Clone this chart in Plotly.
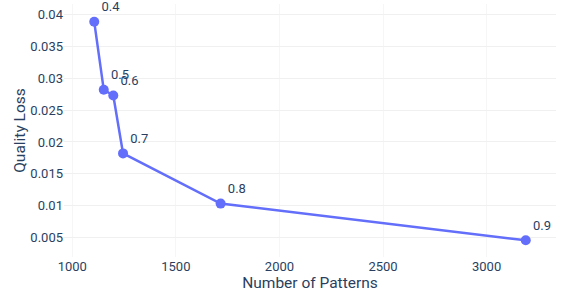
import plotly.graph_objects as go

patterns = [1106, 1152, 1198, 1245, 1716, 3189]
quality_loss = [0.0389, 0.0282, 0.0273, 0.0182, 0.0103, 0.00453]
labels = ["0.4", "0.5", "0.6", "0.7", "0.8", "0.9"]

fig = go.Figure(go.Scatter(
    x=patterns, y=quality_loss, mode="lines+markers+text",
    text=labels, textposition="top right",
    line=dict(color="#636efa", width=2.5),
    marker=dict(size=10, color="#636efa"),
    textfont=dict(size=13, color="#2a3f5f"),
    cliponaxis=False,
))
fig.update_layout(
    template="plotly_white",
    width=564, height=297,
    margin=dict(l=64, r=8, t=4, b=40),
    font=dict(family="Roboto", color="#2a3f5f", size=13),
    showlegend=False,
    xaxis=dict(title=dict(text="Number of Patterns", font=dict(size=15.5), standoff=4),
               range=[960, 3335], tickvals=[1000, 1500, 2000, 2500, 3000],
               gridcolor="#f6f6f6", zeroline=False),
    yaxis=dict(title=dict(text="Quality Loss", font=dict(size=15.5), standoff=0),
               range=[0.0019, 0.0417],
               tickvals=[0.005, 0.01, 0.015, 0.02, 0.025, 0.03, 0.035, 0.04],
               ticktext=["0.005", "0.01", "0.015", "0.02", "0.025", "0.03", "0.035", "0.04"],
               gridcolor="#f0f0f0", zeroline=False),
)
fig.write_html("out.html", config={"displayModeBar": False},
               post_script="document.body.style.margin='0';")
